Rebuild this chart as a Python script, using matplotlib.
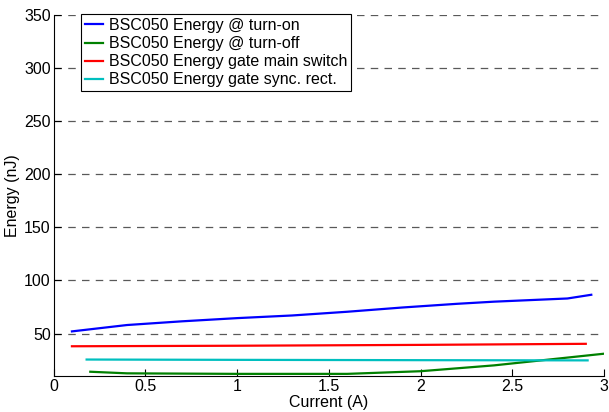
import numpy as np
import matplotlib
matplotlib.use('Agg')
from matplotlib import pyplot as plt

plt.rcParams['font.family'] = ['Liberation Sans', 'DejaVu Sans']

# switching / gate energies vs load current
x_on = [0.1, 0.4, 0.7, 1.0, 1.3, 1.6, 1.9, 2.2, 2.4, 2.8, 2.93]
e_on = [52, 58, 61.5, 64.5, 67, 70.5, 74.5, 78, 80, 83, 86.5]

x_off = [0.2, 0.4, 1.0, 1.6, 2.0, 2.4, 2.7, 3.0]
e_off = [14, 12.5, 12, 12, 14.5, 20, 25.5, 31]

x_main = [0.1, 1.0, 2.0, 2.9]
e_main = [38, 38.5, 39.3, 40.3]

x_sync = [0.18, 1.0, 2.0, 2.91]
e_sync = [25.5, 25.2, 24.9, 24.7]

labels = ['BSC050 Energy @ turn-on', 'BSC050 Energy @ turn-off',
          'BSC050 Energy gate main switch', 'BSC050 Energy gate sync. rect.']

xticks = [0, 0.5, 1, 1.5, 2, 2.5, 3]
xticklabels = ['0', '0.5', '1', '1.5', '2', '2.5', '3']
yticks = [50, 100, 150, 200, 250, 300, 350]

fs = 11.5

fig = plt.figure(figsize=(6.09, 4.12), dpi=100)
ax = fig.add_axes([0.088, 0.0874, 0.904, 0.8762])

ax.plot(x_on, e_on, color='#0000ff', lw=1.6, label=labels[0])
ax.plot(x_off, e_off, color='#008000', lw=1.6, label=labels[1])
ax.plot(x_main, e_main, color='#ff0000', lw=1.6, label=labels[2])
ax.plot(x_sync, e_sync, color='#00bfbf', lw=1.6, label=labels[3])

ax.set_xlim(0, 3)
ax.set_ylim(10, 350)
ax.set_xticks(xticks)
ax.set_xticklabels(xticklabels)
ax.set_yticks(yticks)
ax.tick_params(direction='in', length=5, labelsize=fs, width=0.8, pad=2)
ax.yaxis.grid(True, linestyle=(0, (6, 5)), color='0.35', lw=0.9)
ax.set_axisbelow(True)
for s in ['top', 'right']:
    ax.spines[s].set_visible(False)

ax.set_xlabel('Current (A)', fontsize=fs, labelpad=1)
ax.set_ylabel('Energy (nJ)', fontsize=fs, labelpad=3)

leg = ax.legend(loc='upper left', bbox_to_anchor=(0.05, 1.003), borderaxespad=0,
                fontsize=fs, handlelength=1.1, handletextpad=0.4, borderpad=0.25,
                labelspacing=0.2, fancybox=False, framealpha=1)
leg.get_frame().set_edgecolor('black')
leg.get_frame().set_linewidth(0.8)

plt.savefig('out.png', dpi=100)
